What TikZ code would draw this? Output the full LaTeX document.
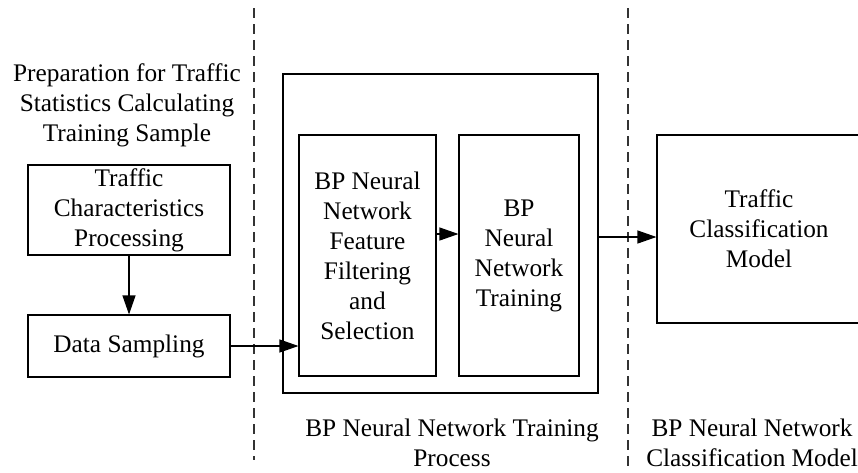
\documentclass[tikz,border=0pt]{standalone}
\usepackage{fontspec}
\setmainfont{Liberation Serif}
\usepackage{tikz}
\usetikzlibrary{arrows.meta,calc,positioning}
\tikzstyle{arrow} = [line width=1.1pt, -{Triangle[length=19pt,width=13pt]}]
\tikzstyle{box} = [draw, line width=1.1pt, align=center, inner sep=0pt]
\tikzstyle{divider} = [line width=1.1pt, black!80, dash pattern=on 10pt off 6pt]
\tikzstyle{caption} = [align=center, inner sep=0pt]

\begin{document}
\begin{tikzpicture}[x=1pt,y=-1pt,font=\fontsize{25.3}{30}\selectfont]
\useasboundingbox (0,0) rectangle (858,472);

\coordinate (d1top) at (254,8);
\coordinate (d1bot) at (254,460);
\coordinate (d2top) at (628,8);
\coordinate (d2bot) at (628,470);
\draw[divider] (d1top) -- (d1bot);
\draw[divider] (d2top) -- (d2bot);

\node[caption] (prep) at (127,105) {Preparation for Traffic\\Statistics Calculating\\Training Sample};
\node[box, minimum width=202pt, minimum height=90pt] (tcp) at (129,210) {Traffic\\Characteristics\\Processing};
\node[box, minimum width=202pt, minimum height=62pt] (ds) at (129,346) {Data Sampling};

\node[box, minimum width=315pt, minimum height=319pt] (outer) at (440.5,233.5) {};
\node[box, minimum width=137pt, minimum height=241pt] (fsel) at (367.5,255.5) {BP Neural\\Network\\Feature\\Filtering\\and\\Selection};
\node[box, minimum width=120pt, minimum height=241pt] (train) at (519,255.5) {BP\\Neural\\Network\\Training};

\node[box, minimum width=204pt, minimum height=188pt] (tcm) at (759,229) {Traffic\\Classification\\Model};

\node[caption] (trainlab) at (452,443) {BP Neural Network Training\\Process};
\node[caption] (classlab) at (752,443) {BP Neural Network\\Classification Model};

\draw[arrow] (tcp.south) -- (ds.north);
\draw[arrow] (ds.east) -- (ds.east -| fsel.west);
\draw[arrow] ([yshift=21.5pt]fsel.east) -- ([yshift=21.5pt]train.west);
\draw[arrow] ([yshift=-3.5pt]outer.east) -- ([yshift=-3.5pt]outer.east -| tcm.west);
\end{tikzpicture}
\end{document}
